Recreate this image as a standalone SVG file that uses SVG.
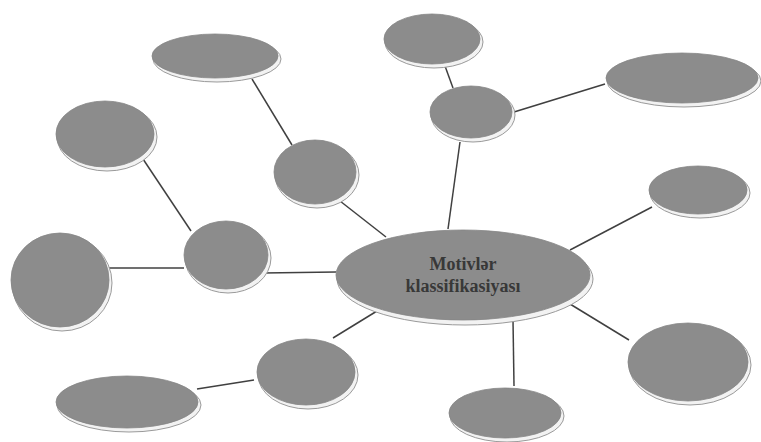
<svg xmlns="http://www.w3.org/2000/svg" width="761" height="442" viewBox="0 0 761 442">
<defs>
<style>
.rim{fill:#f2f2f2;stroke:#9a9a9a;stroke-width:1}
.body{fill:#8c8c8c;stroke:#858585;stroke-width:0.8}
.edge{stroke:#404040;stroke-width:1.5;fill:none}
.lbl{font-family:"Liberation Serif",serif;font-size:18px;font-weight:bold;fill:#383838;text-anchor:middle}
</style>
</defs>
<rect width="761" height="442" fill="#ffffff"/>
<g id="connectors">
<line class="edge" x1="252" y1="79" x2="292" y2="145"/>
<line class="edge" x1="143" y1="159" x2="191" y2="231"/>
<line class="edge" x1="340" y1="201" x2="386" y2="237"/>
<line class="edge" x1="445" y1="66" x2="453" y2="88"/>
<line class="edge" x1="514" y1="112" x2="605" y2="84"/>
<line class="edge" x1="460" y1="142" x2="448" y2="229"/>
<line class="edge" x1="652" y1="207" x2="570" y2="250"/>
<line class="edge" x1="570" y1="304" x2="629" y2="340"/>
<line class="edge" x1="513" y1="320" x2="514" y2="386"/>
<line class="edge" x1="263" y1="273" x2="336" y2="272"/>
<line class="edge" x1="108" y1="268" x2="184" y2="268"/>
<line class="edge" x1="333" y1="338" x2="377" y2="311"/>
<line class="edge" x1="197" y1="389" x2="254" y2="380"/>
</g>
<g id="n1"><ellipse class="rim" cx="217" cy="59" rx="64" ry="23"/><ellipse class="body" cx="215" cy="56" rx="63" ry="22"/></g>
<g id="n2"><ellipse class="rim" cx="107" cy="137" rx="50" ry="34"/><ellipse class="body" cx="105" cy="134" rx="49" ry="33"/></g>
<g id="n3"><ellipse class="rim" cx="317" cy="175" rx="42" ry="33"/><ellipse class="body" cx="315" cy="172" rx="41" ry="32"/></g>
<g id="n4"><ellipse class="rim" cx="434" cy="42" rx="49" ry="26"/><ellipse class="body" cx="432" cy="39" rx="48" ry="25"/></g>
<g id="n5"><ellipse class="rim" cx="473" cy="115" rx="42" ry="27"/><ellipse class="body" cx="471" cy="112" rx="41" ry="26"/></g>
<g id="n6"><ellipse class="rim" cx="684" cy="81" rx="77" ry="26"/><ellipse class="body" cx="682" cy="78" rx="76" ry="25"/></g>
<g id="n7"><ellipse class="rim" cx="700" cy="193" rx="50" ry="25"/><ellipse class="body" cx="698" cy="190" rx="49" ry="24"/></g>
<g id="n8"><ellipse class="rim" cx="465" cy="279" rx="128" ry="46"/><ellipse class="body" cx="463" cy="275" rx="127" ry="45"/>
<text class="lbl" x="463" y="270">Motivlər</text><text class="lbl" x="463" y="292">klassifikasiyası</text></g>
<g id="n9"><ellipse class="rim" cx="228" cy="258" rx="43" ry="35"/><ellipse class="body" cx="226" cy="255" rx="42" ry="34"/></g>
<g id="n10"><ellipse class="rim" cx="62" cy="283" rx="50" ry="48"/><ellipse class="body" cx="60" cy="280" rx="49" ry="47"/></g>
<g id="n11"><ellipse class="rim" cx="308" cy="375" rx="50" ry="34"/><ellipse class="body" cx="306" cy="372" rx="49" ry="33"/></g>
<g id="n12"><ellipse class="rim" cx="129" cy="405" rx="72" ry="27"/><ellipse class="body" cx="127" cy="402" rx="71" ry="26"/></g>
<g id="n13"><ellipse class="rim" cx="507" cy="416" rx="57" ry="26"/><ellipse class="body" cx="505" cy="413" rx="56" ry="25"/></g>
<g id="n14"><ellipse class="rim" cx="690" cy="365" rx="61" ry="40"/><ellipse class="body" cx="688" cy="362" rx="60" ry="39"/></g>
</svg>
